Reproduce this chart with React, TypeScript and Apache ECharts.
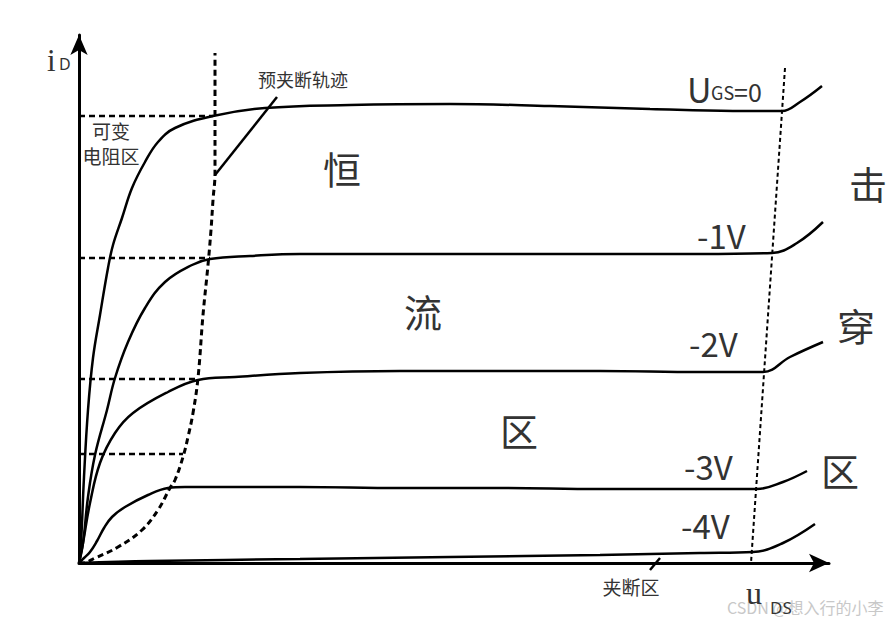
import React, { useEffect, useRef } from "react";
import * as echarts from "echarts";

// Units: x = u_DS (drawing units), y = i_D (drawing units)
const curveUgs0: number[][] = [
  [0, 0], [2, 20], [5, 86], [9, 153], [14, 205], [21, 248], [29, 295], [34, 318], [43, 345],
  [53, 375], [66, 401], [79, 421], [96, 435], [134, 447], [186, 455], [271, 458], [371, 459],
  [471, 457], [571, 454], [654, 452], [703, 452], [721, 461], [743, 477],
];
const curveM1: number[][] = [
  [0, 0], [4, 20], [9, 66], [16, 108], [28, 153], [36, 185], [49, 221], [66, 255], [86, 281],
  [113, 298], [131, 304], [171, 307], [221, 309], [321, 309], [421, 309], [521, 309], [621, 309],
  [693, 310], [718, 320], [744, 341],
];
const curveM2: number[][] = [
  [0, 0], [4, 20], [11, 60], [21, 100], [36, 130], [54, 150], [89, 171], [119, 183], [156, 186],
  [221, 190], [321, 192], [421, 192], [521, 192], [621, 191], [684, 191], [711, 206], [744, 221],
];
const curveM3: number[][] = [
  [0, 0], [5, 5], [11, 11], [18, 22], [25, 35], [33, 46], [46, 56], [69, 68], [89, 75], [106, 76],
  [156, 76], [221, 76], [321, 75], [421, 75], [521, 74], [621, 74], [678, 74], [704, 81], [728, 92],
];
const curveM4: number[][] = [
  [0, 0], [71, 2], [221, 4], [371, 6], [521, 8], [621, 10], [674, 11], [704, 20], [736, 39],
];
const pinchOffLocus: number[][] = [
  [0, 0], [3, 0], [16, 5], [39, 16], [63, 33], [79, 53], [91, 75], [96, 83], [104, 106],
  [109, 126], [114, 150], [119, 185], [124, 248], [129, 298], [132, 333], [134, 363],
  [136, 390], [136, 447], [136, 510],
];
const breakdownLocus: number[][] = [[706, 495], [672, 0]];
const pinchLevels: number[][] = [[447, 134], [305, 131], [184, 119], [109, 104]]; // [iD, uDS at locus]
const pinchPointer: number[][] = [[136, 388], [198, 466]];
const cutoffPointer: number[][] = [[571, -7], [581, 5]];

const X_MAX = 750;
const Y_MAX = 528;

const TXT = "#333";
const CJK = "'Noto Sans CJK SC', 'Noto Sans', sans-serif";
const SERIF = "'Liberation Serif', 'DejaVu Serif', serif";

export default function App() {
  const ref = useRef<HTMLDivElement>(null);
  useEffect(() => {
    if (!ref.current) return;
    const chart = echarts.init(ref.current, undefined, { renderer: "svg" });

    const solid = (data: number[][], extra: any = {}) => ({
      type: "line",
      data,
      smooth: 0.4,
      symbol: "none",
      silent: true,
      clip: false,
      lineStyle: { color: "#000", width: 2.5 },
      ...extra,
    });

    const series: any[] = [
      solid(curveUgs0),
      solid(curveM1),
      solid(curveM2),
      solid(curveM3),
      solid(curveM4),
      solid(pinchOffLocus, { lineStyle: { color: "#000", width: 3, type: [6, 4] } }),
      solid(breakdownLocus, { smooth: false, lineStyle: { color: "#000", width: 2, type: [4, 3] } }),
      ...pinchLevels.map(([y, x]) =>
        solid([[0, y], [x, y]], { smooth: false, lineStyle: { color: "#000", width: 2.5, type: [6, 4] } })
      ),
      solid(pinchPointer, { smooth: false, lineStyle: { color: "#000", width: 2.5 } }),
      solid(cutoffPointer, { smooth: false, lineStyle: { color: "#000", width: 2.5 } }),
    ];

    const t = (text: string, x: number, y: number, size: number, opts: any = {}) => ({
      type: "text",
      x,
      y,
      silent: true,
      z: opts.z ?? 10,
      style: {
        text,
        fill: opts.fill ?? TXT,
        font: `${opts.weight ?? "normal"} ${size}px ${opts.family ?? CJK}`,
        align: opts.align ?? "center",
        textAlign: opts.align ?? "center",
        verticalAlign: "middle",
        textVerticalAlign: "middle",
      },
    });

    const graphic: any[] = [
      t("i", 47, 60, 31, { family: SERIF, align: "left" }),
      t("D", 59, 64, 16, { align: "left", family: "'Noto Sans', sans-serif" }),
      t("预夹断轨迹", 303, 79, 18),
      t("可变", 111, 130, 19),
      t("电阻区", 111, 155, 19),
      t("恒", 342, 167, 38),
      t("流", 423, 310, 38),
      t("区", 519, 429, 38),
      t("击", 868, 182, 38),
      t("穿", 856, 324, 38),
      t("区", 840, 469, 38),
      t("U", 687, 88, 34, { align: "left" }),
      t("GS", 711, 92, 18, { align: "left" }),
      t("=0", 734, 91, 25, { align: "left" }),
      t("-1V", 697, 235, 33, { align: "left" }),
      t("-2V", 689, 343, 33, { align: "left" }),
      t("-3V", 684, 466, 33, { align: "left" }),
      t("-4V", 681, 525, 33, { align: "left" }),
      t("夹断区", 631, 586, 19),
      t("CSDN @想入行的小李", 727, 607, 16, { align: "left", fill: "#c8c8c8", z: 5 }),
      t("u", 746, 593, 32, { family: SERIF, align: "left" }),
      t("DS", 770, 607, 17, { align: "left", family: "'Noto Sans', sans-serif" }),
    ];

    chart.setOption({
      animation: false,
      backgroundColor: "#fff",
      grid: { left: 79, top: 35, width: X_MAX, height: Y_MAX, containLabel: false },
      xAxis: {
        type: "value",
        min: 0,
        max: X_MAX,
        axisLine: {
          show: true,
          onZero: false,
          symbol: ["none", "arrow"],
          symbolSize: [14, 20],
          lineStyle: { color: "#000", width: 3 },
        },
        axisTick: { show: false },
        axisLabel: { show: false },
        splitLine: { show: false },
      },
      yAxis: {
        type: "value",
        min: 0,
        max: Y_MAX,
        axisLine: {
          show: true,
          onZero: false,
          symbol: ["none", "arrow"],
          symbolSize: [13, 20],
          lineStyle: { color: "#000", width: 3 },
        },
        axisTick: { show: false },
        axisLabel: { show: false },
        splitLine: { show: false },
      },
      series,
      graphic,
    });
    return () => chart.dispose();
  }, []);
  return (
    <div
      ref={ref}
      style={{ position: "fixed", left: 0, top: 0, width: 894, height: 622, background: "#fff" }}
    />
  );
}
